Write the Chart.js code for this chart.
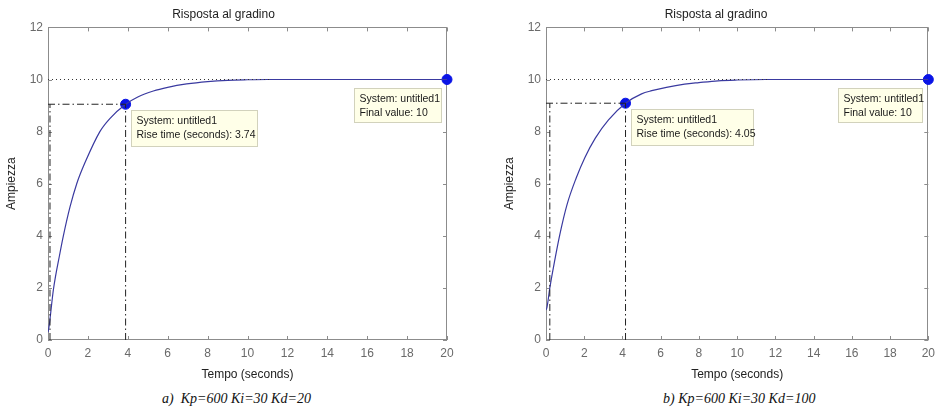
<!DOCTYPE html>
<html>
<head>
<meta charset="utf-8">
<script src="https://cdn.jsdelivr.net/npm/chart.js@4"></script>
<style>
  html, body { margin: 0; padding: 0; background: #fff; }
  body { width: 941px; height: 409px; position: relative; overflow: hidden; }
  .panel { position: absolute; top: 0; height: 386px; }
  #panelA { left: 0; width: 470px; }
  #panelB { left: 470px; width: 471px; }
  .caption { position: absolute; top: 391px; font: italic 14px "Liberation Serif", "DejaVu Serif", serif; color: #111; white-space: pre; }
</style>
</head>
<body>
<div class="panel" id="panelA"><canvas id="chartA"></canvas></div>
<div class="panel" id="panelB"><canvas id="chartB"></canvas></div>
<div class="caption" style="left:162px">a)  Kp=600 Ki=30 Kd=20</div>
<div class="caption" style="left:663px">b) Kp=600 Ki=30 Kd=100</div>
<script>
// step response a) Kp=600 Ki=30 Kd=20
const timeA = [0, 0.05, 0.27, 0.6, 0.77, 1.1, 1.44, 1.85, 2.6, 3.1, 3.89, 4.5, 5.28, 6, 6.95, 8, 9, 10, 11, 12, 14, 16, 18, 20];
const respA = [0.3, 0.5, 1.93, 3.34, 4.0, 5.1, 6.0, 6.8, 8.0, 8.5, 9.05, 9.33, 9.56, 9.7, 9.83, 9.92, 9.97, 9.99, 10, 10, 10, 10, 10, 10];
// step response b) Kp=600 Ki=30 Kd=100
const timeB = [0, 0.05, 0.2, 0.46, 0.72, 1.1, 1.58, 2.03, 2.58, 3.27, 4.16, 5, 5.53, 6.3, 7.25, 8, 9, 10, 11.5, 14, 16, 18, 20];
const respB = [1.15, 1.25, 2.0, 3.07, 4.04, 5.2, 6.22, 7.0, 7.75, 8.45, 9.09, 9.45, 9.57, 9.7, 9.82, 9.88, 9.95, 9.98, 10, 10, 10, 10, 10];

// rise time markers: [t at 10%, t at 90%, value at 90%]
const riseA = [0.1, 3.89, 9.05];
const riseB = [0.2, 4.16, 9.09];
const finalValue = 10;
const finalTime = 20;
const settleEndA = 11.1;
const settleEndB = 11.7;

const xTicks = [0, 2, 4, 6, 8, 10, 12, 14, 16, 18, 20];
const yTicks = [0, 2, 4, 6, 8, 10, 12];

const toPts = (xs, ys) => xs.map((x, i) => ({ x: x, y: ys[i] }));

// frame, inward ticks and data tips drawn like the original figure
const framePlugin = {
    id: 'frame',
    beforeDatasetsDraw(chart) {
        const { ctx, chartArea: a, scales: { x, y } } = chart;
        ctx.save();
        ctx.strokeStyle = '#8c8c8c';
        ctx.lineWidth = 1;
        ctx.strokeRect(Math.round(a.left) + 0.5, Math.round(a.top) + 0.5, Math.round(a.width) - 1, Math.round(a.height) - 1);
        ctx.beginPath();
        x.ticks.forEach(t => {
            const px = Math.round(x.getPixelForValue(t.value)) + 0.5;
            ctx.moveTo(px, a.bottom); ctx.lineTo(px, a.bottom - 4);
            ctx.moveTo(px, a.top); ctx.lineTo(px, a.top + 4);
        });
        y.ticks.forEach(t => {
            const py = Math.round(y.getPixelForValue(t.value)) + 0.5;
            ctx.moveTo(a.left, py); ctx.lineTo(a.left + 4, py);
            ctx.moveTo(a.right, py); ctx.lineTo(a.right - 4, py);
        });
        ctx.stroke();
        ctx.restore();
    },
    afterDatasetsDraw(chart, args, opts) {
        const { ctx, scales: { x, y } } = chart;
        ctx.save();
        (opts.notes || []).forEach(n => {
            const left = Math.round(x.getPixelForValue(n.t) + n.dx) + 0.5;
            const top = Math.round(y.getPixelForValue(n.v) + n.dy) + 0.5;
            ctx.fillStyle = '#ffffe8';
            ctx.strokeStyle = '#d2d2bc';
            ctx.fillRect(left, top, n.w, n.h);
            ctx.strokeRect(left, top, n.w, n.h);
            ctx.fillStyle = '#1a1a1a';
            ctx.font = '10.5px "Liberation Sans", Arial, sans-serif';
            ctx.textBaseline = 'middle';
            n.lines.forEach((line, i) => ctx.fillText(line, left + 5, top + 11 + i * 14));
        });
        ctx.restore();
    }
};

function makeChart(id, times, resp, rise, settleEnd, riseLabel, pad) {
    const curveColor = '#3a3aa0';
    const dashDot = [7, 3, 1.5, 3];
    return new Chart(document.getElementById(id), {
        type: 'scatter',
        data: {
            datasets: [
                { data: [{ x: 0, y: finalValue }, { x: settleEnd, y: finalValue }], showLine: true, borderColor: '#333', borderWidth: 1, borderDash: [1, 3], pointRadius: 0 },
                { data: [{ x: 0, y: rise[2] }, { x: rise[1], y: rise[2] }], showLine: true, borderColor: '#222', borderWidth: 1, borderDash: dashDot, pointRadius: 0 },
                { data: [{ x: rise[0], y: 0 }, { x: rise[0], y: rise[2] }], showLine: true, borderColor: '#222', borderWidth: 1, borderDash: dashDot, pointRadius: 0 },
                { data: [{ x: rise[1], y: 0 }, { x: rise[1], y: rise[2] }], showLine: true, borderColor: '#222', borderWidth: 1, borderDash: dashDot, pointRadius: 0 },
                { data: toPts(times, resp), showLine: true, borderColor: curveColor, borderWidth: 1.2, pointRadius: 0, cubicInterpolationMode: 'monotone' },
                { data: [{ x: rise[1], y: rise[2] }, { x: finalTime, y: finalValue }], showLine: false, pointRadius: 5, pointBackgroundColor: '#0a14e6', pointBorderColor: '#0a14e6', clip: false }
            ]
        },
        options: {
            responsive: true,
            maintainAspectRatio: false,
            animation: false,
            events: [],
            layout: { padding: { left: pad.left, right: pad.right, top: 0, bottom: 4 } },
            plugins: {
                legend: { display: false },
                tooltip: { enabled: false },
                title: {
                    display: true,
                    text: 'Risposta al gradino',
                    color: '#222',
                    font: { family: '"Liberation Sans", Arial, sans-serif', size: 12, weight: 'normal' },
                    padding: { top: 7, bottom: 6 }
                },
                frame: {
                    notes: [
                        { t: rise[1], v: rise[2], dx: 5, dy: 6, w: pad.riseW, h: 36, lines: ['System: untitled1', riseLabel] },
                        { t: finalTime, v: finalValue, dx: pad.finalDx, dy: 8, w: -pad.finalDx - 6, h: 34, lines: ['System: untitled1', 'Final value: 10'] }
                    ]
                }
            },
            scales: {
                x: {
                    type: 'linear', min: 0, max: 20,
                    afterBuildTicks: s => { s.ticks = xTicks.map(v => ({ value: v })); },
                    afterFit: s => { s.height = 42; },
                    grid: { display: false, drawTicks: false },
                    border: { display: false },
                    ticks: { color: '#6a6a6a', padding: 6, font: { family: '"Liberation Sans", Arial, sans-serif', size: 12 } },
                    title: { display: true, text: 'Tempo (seconds)', color: '#222', padding: { top: 3, bottom: 0 }, font: { family: '"Liberation Sans", Arial, sans-serif', size: 12 } }
                },
                y: {
                    type: 'linear', min: 0, max: 12,
                    afterBuildTicks: s => { s.ticks = yTicks.map(v => ({ value: v })); },
                    afterFit: s => { s.width = 48; },
                    grid: { display: false, drawTicks: false },
                    border: { display: false },
                    ticks: { color: '#6a6a6a', padding: 5, font: { family: '"Liberation Sans", Arial, sans-serif', size: 12 } },
                    title: { display: true, text: 'Ampiezza', color: '#222', padding: { top: 4, bottom: 4 }, font: { family: '"Liberation Sans", Arial, sans-serif', size: 12 } }
                }
            }
        },
        plugins: [framePlugin]
    });
}

makeChart('chartA', timeA, respA, riseA, settleEndA, 'Rise time (seconds): 3.74',
    { left: 0, right: 23, riseW: 126, finalDx: -93 });
makeChart('chartB', timeB, respB, riseB, settleEndB, 'Rise time (seconds): 4.05',
    { left: 28, right: 7, riseW: 122, finalDx: -90 });
</script>
</body>
</html>
